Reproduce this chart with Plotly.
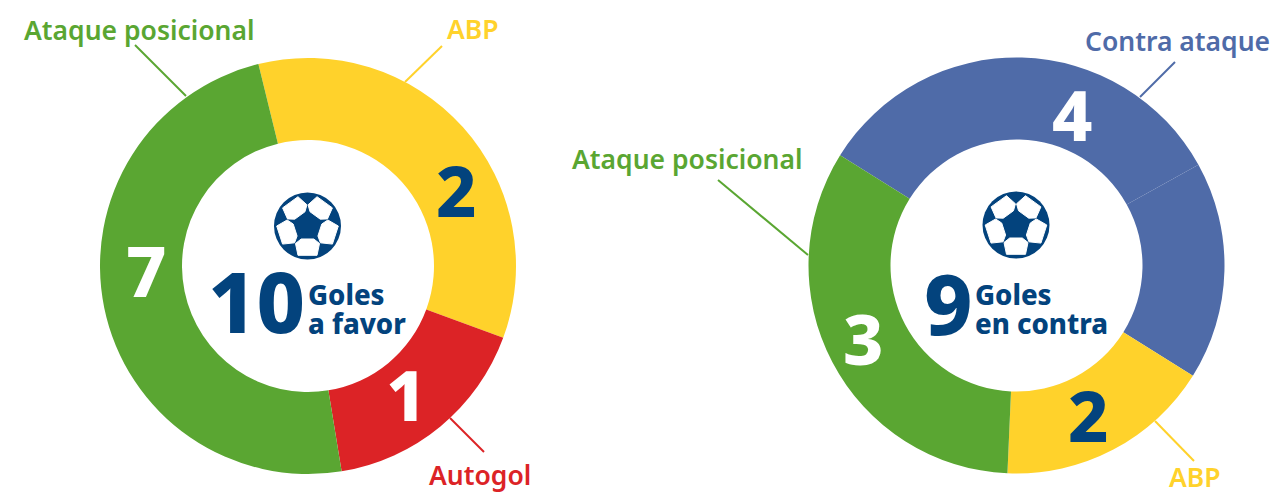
import math
import plotly.graph_objects as go

W, H = 1271, 496

# slice sizes as drawn, in degrees of the ring (they do not follow the printed counts)
favor_labels = ['ABP', 'Autogol', 'Ataque posicional']
favor_values = [124, 60.5, 175.5]
favor_counts = ['2', '1', '7']
contra_labels = ['Contra ataque', 'Contra ataque (2)', 'ABP', 'Ataque posicional']
contra_values = [119, 61, 60.5, 119.5]
contra_counts = ['4', '2', '3']

GREEN = '#5AA632'
YELLOW = '#FFD22B'
RED = '#DC2326'
BLUE = '#4F6BA8'
NAVY = '#03437D'
FONT = 'Noto Sans'


def px(x):
    return x / W


def py(y):
    return 1 - y / H


def donut(labels, values, colors, cx, cy, rotation):
    r = 208
    return go.Pie(
        labels=labels,
        values=values,
        sort=False,
        direction='clockwise',
        rotation=rotation,
        hole=126 / 208,
        textinfo='none',
        hoverinfo='label',
        showlegend=False,
        marker=dict(colors=colors, line=dict(width=0)),
        domain=dict(x=[px(cx - r), px(cx + r)], y=[py(cy + r), py(cy - r)]),
    )


def text(x, y, s, size, color, anchor='center', weight=600, height=None):
    return dict(
        x=px(x), y=py(y), xref='paper', yref='paper', text=s, showarrow=False,
        xanchor=anchor, yanchor='middle', height=height,
        font=dict(family=FONT, size=size, color=color, weight=weight),
    )


def leader(x0, y0, x1, y1, color):
    return dict(type='line', xref='paper', yref='paper',
                x0=px(x0), y0=py(y0), x1=px(x1), y1=py(y1),
                line=dict(color=color, width=2))


def poly_path(points):
    return 'M ' + ' L '.join(f'{px(x):.5f},{py(y):.5f}' for x, y in points) + ' Z'


def ball(cx, cy):
    # football icon: dark disc with five white patches around the centre
    shapes = [dict(type='circle', xref='paper', yref='paper',
                   x0=px(cx - 33.5), x1=px(cx + 33.5), y0=py(cy + 33.5), y1=py(cy - 33.5),
                   fillcolor=NAVY, line=dict(width=0))]
    patch = [(-6.3, 13), (6.3, 13), (12, 17.5), (9.5, 29.3), (-9.5, 29.3), (-12, 17.5)]
    for k in range(5):
        a = math.radians(72 * k)
        pts = [(cx + x * math.cos(a) - y * math.sin(a), cy + x * math.sin(a) + y * math.cos(a))
               for x, y in patch]
        shapes.append(dict(type='path', xref='paper', yref='paper', path=poly_path(pts),
                           fillcolor='white', line=dict(color='white', width=1)))
    return shapes


fig = go.Figure()
fig.add_trace(donut(favor_labels, favor_values, [YELLOW, RED, GREEN], 308, 266, -13.8))
fig.add_trace(donut(contra_labels, contra_values, [BLUE, BLUE, YELLOW, GREEN], 1016.5, 265.5, -58))

annotations = [
    text(139.5, 30, 'Ataque posicional', 26.5, GREEN),
    text(473, 29, 'ABP', 26.5, YELLOW),
    text(480, 475, 'Autogol', 26.5, RED),
    text(1177, 41, 'Contra ataque', 26.5, BLUE),
    text(687, 159, 'Ataque posicional', 26.5, GREEN),
    text(1195, 477, 'ABP', 26.5, YELLOW),
    text(456, 190, favor_counts[0], 70, NAVY, weight=800),
    text(406, 394, favor_counts[1], 70, 'white', weight=800),
    text(146, 270, favor_counts[2], 70, 'white', weight=800),
    text(1072, 114, contra_counts[0], 70, 'white', weight=800),
    text(1088, 415, contra_counts[1], 70, NAVY, weight=800),
    text(863, 338, contra_counts[2], 70, 'white', weight=800),
    text(256, 300, '10', 84, NAVY, weight=800),
    text(306, 294, 'Goles', 27.5, NAVY, 'left', 800, 28),
    text(306, 323, 'a favor', 27.5, NAVY, 'left', 800, 28),
    text(948, 302, '9', 84, NAVY, weight=800),
    text(973, 294, 'Goles', 27.5, NAVY, 'left', 800, 28),
    text(973, 323, 'en contra', 27.5, NAVY, 'left', 800, 28),
]

shapes = [
    leader(135, 45, 186, 96, GREEN),
    leader(442, 46, 405, 82, YELLOW),
    leader(450, 418, 484, 452, RED),
    leader(1175, 62, 1140, 97, BLUE),
    leader(718, 180, 808, 255, GREEN),
    leader(1155, 421, 1194, 461, YELLOW),
]
shapes += ball(307.5, 226)
shapes += ball(1016, 225)

fig.update_layout(
    width=W,
    height=H,
    margin=dict(l=0, r=0, t=0, b=0),
    paper_bgcolor='white',
    annotations=annotations,
    shapes=shapes,
)

fig.write_html("out.html", config=dict(displayModeBar=False),
               post_script="document.body.style.margin='0';document.body.style.overflow='hidden';")
